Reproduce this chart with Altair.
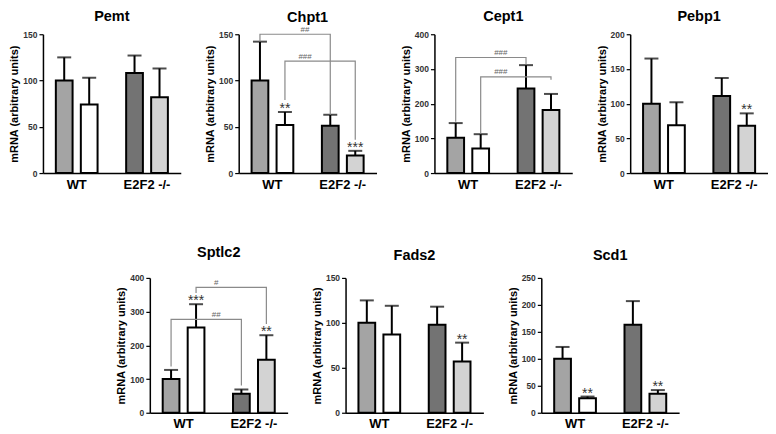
import altair as alt
import pandas as pd

FONT = "Liberation Sans"

genes = ["Pemt", "Chpt1", "Cept1", "Pebp1", "Sptlc2", "Fads2", "Scd1"]
y_max = [150, 150, 400, 200, 400, 150, 250]
y_step = [50, 50, 100, 50, 100, 50, 50]
groups = ["WT", "E2F2 -/-"]
conds = ["control", "treated"]
bar_keys = ["WT control", "WT treated", "E2F2 control", "E2F2 treated"]
bar_colors = ["#a4a4a4", "#ffffff", "#737373", "#d3d3d3"]

# bar order: WT control, WT treated, E2F2-/- control, E2F2-/- treated
mean_pemt = [100, 74, 108, 82]
sd_pemt = [25, 29, 19, 31]
mean_chpt1 = [100, 52, 51, 19]
sd_chpt1 = [42, 14, 12, 5]
mean_cept1 = [102, 71, 244, 182]
sd_cept1 = [42, 41, 67, 46]
mean_pebp1 = [100, 69, 111, 68]
sd_pebp1 = [65, 33, 26, 18]
mean_sptlc2 = [100, 253, 56, 157]
sd_sptlc2 = [27, 69, 13, 73]
mean_fads2 = [100, 87, 98, 57]
sd_fads2 = [25, 32, 20, 21]
mean_scd1 = [100, 27, 163, 35]
sd_scd1 = [22, 3, 44, 7]

stars_pemt = ["", "", "", ""]
stars_chpt1 = ["", "**", "", "***"]
stars_cept1 = ["", "", "", ""]
stars_pebp1 = ["", "", "", "**"]
stars_sptlc2 = ["", "***", "", "**"]
stars_fads2 = ["", "", "", "**"]
stars_scd1 = ["", "**", "", "**"]

# brackets: (condition, bracket height, left leg end, right leg end, label)
brackets_chpt1 = [("control", 150, 142, 63, "##"), ("treated", 121, 79, 36, "###")]
brackets_cept1 = [("control", 333, 148, 313, "###"), ("treated", 277, 114, 269, "###")]
brackets_sptlc2 = [("control", 277, 137, 81, "##"), ("treated", 372, 355, 263, "#")]

means = [mean_pemt, mean_chpt1, mean_cept1, mean_pebp1, mean_sptlc2, mean_fads2, mean_scd1]
sds = [sd_pemt, sd_chpt1, sd_cept1, sd_pebp1, sd_sptlc2, sd_fads2, sd_scd1]
stars = [stars_pemt, stars_chpt1, stars_cept1, stars_pebp1, stars_sptlc2, stars_fads2, stars_scd1]
brackets = {"Chpt1": brackets_chpt1, "Cept1": brackets_cept1, "Sptlc2": brackets_sptlc2}

X_PAD_INNER = 0.3
X_PAD_OUTER = 0.13


def panel(i, w, h, title_offset):
    g = genes[i]
    rows = []
    for j in range(4):
        rows.append({
            "group": groups[j // 2],
            "cond": conds[j % 2],
            "key": bar_keys[j],
            "mean": means[i][j],
            "top": means[i][j] + sds[i][j],
            "star": stars[i][j],
        })
    df = pd.DataFrame(rows)
    xaxis = alt.Axis(title=None, labelAngle=0, ticks=False, labelFontSize=13,
                     labelFontWeight="bold", labelColor="black", labelPadding=5,
                     labelFont=FONT, domainColor="black", domainWidth=1.5)
    xscale = alt.Scale(domain=groups, paddingInner=X_PAD_INNER, paddingOuter=X_PAD_OUTER)
    x = alt.X("group:N", sort=groups, scale=xscale, axis=xaxis)
    xo = alt.XOffset("cond:N", sort=conds,
                     scale=alt.Scale(domain=conds, paddingInner=0.33, paddingOuter=0.15))
    yaxis = alt.Axis(values=list(range(0, y_max[i] + 1, y_step[i])),
                     title="mRNA (arbitrary units)", titleFontSize=11,
                     titleFontWeight="bold", titleColor="black", titleFont=FONT,
                     titlePadding=3, labelFontSize=8.5, labelFontWeight="bold",
                     labelColor="#333333", labelFont=FONT, labelPadding=2,
                     labelOverlap=False, labelBound=False,
                     tickSize=4, tickColor="black", tickWidth=1.2,
                     domainColor="black", domainWidth=1.5, grid=False)
    yscale = alt.Scale(domain=[0, y_max[i]], nice=False, zero=True)

    def Y(field):
        return alt.Y(field, scale=yscale, axis=yaxis)

    base = alt.Chart(df)
    err = base.mark_rule(color="black", strokeWidth=2).encode(
        x=x, xOffset=xo, y=Y("mean:Q"), y2="top:Q")
    caps = base.mark_tick(color="black", thickness=2, size=14).encode(
        x=x, xOffset=xo, y=Y("top:Q"))
    bars = base.mark_bar(stroke="black", strokeWidth=2).encode(
        x=x, xOffset=xo, y=Y("mean:Q"),
        color=alt.Color("key:N", scale=alt.Scale(domain=bar_keys, range=bar_colors), legend=None))
    txt = base.mark_text(fontSize=14, color="#333333", baseline="alphabetic", dy=1,
                         font=FONT).encode(
        x=x, xOffset=xo, y=Y("top:Q"), text="star:N")
    layers = [err, bars, caps, txt]
    if g in brackets:
        pts = []
        lab = []
        for k, (c, hh, yl, yr, label) in enumerate(brackets[g]):
            pts += [
                {"b": k, "o": 0, "group": groups[0], "cond": c, "y": yl},
                {"b": k, "o": 1, "group": groups[0], "cond": c, "y": hh},
                {"b": k, "o": 2, "group": groups[1], "cond": c, "y": hh},
                {"b": k, "o": 3, "group": groups[1], "cond": c, "y": yr},
            ]
            lab.append({"group": groups[0], "y": hh, "label": label})
        bdf = pd.DataFrame(pts)
        ldf = pd.DataFrame(lab)
        blines = alt.Chart(bdf).mark_line(color="#8a8a8a", strokeWidth=1.2).encode(
            x=x, xOffset=xo, y=Y("y:Q"), detail="b:N", order="o:Q")
        blabels = alt.Chart(ldf).mark_text(fontSize=8, color="#666666", baseline="bottom",
                                           dy=-0.5, dx=8, font=FONT).encode(
            x=alt.X("group:N", sort=groups, scale=xscale, axis=xaxis, bandPosition=1),
            y=Y("y:Q"), text="label:N")
        layers += [blines, blabels]
    return alt.layer(*layers).properties(
        width=w, height=h,
        title=alt.Title(g, fontSize=14.5, fontWeight="bold", color="black", font=FONT,
                        anchor="middle", offset=title_offset))


top_offsets = [6, 0, 6, 6]
top = alt.hconcat(*[panel(i, 138, 139, top_offsets[i]) for i in range(4)],
                  spacing=58, bounds="flush")

spacer = alt.Chart(pd.DataFrame({"v": [0]})).mark_point(opacity=0).encode(
    x=alt.X("v:Q", axis=None), y=alt.Y("v:Q", axis=None)).properties(width=49, height=134)
bottom = alt.hconcat(spacer, panel(4, 138, 135, 13), panel(5, 138, 135, 10),
                     panel(6, 138, 135, 10), spacing=58, bounds="flush")

chart = alt.vconcat(top, bottom, spacing=54).properties(
    padding={"left": 0, "top": 0, "right": 0, "bottom": 0}
).configure_view(stroke=None)

chart.save("out.html", embed_options={"renderer": "svg", "actions": False})
